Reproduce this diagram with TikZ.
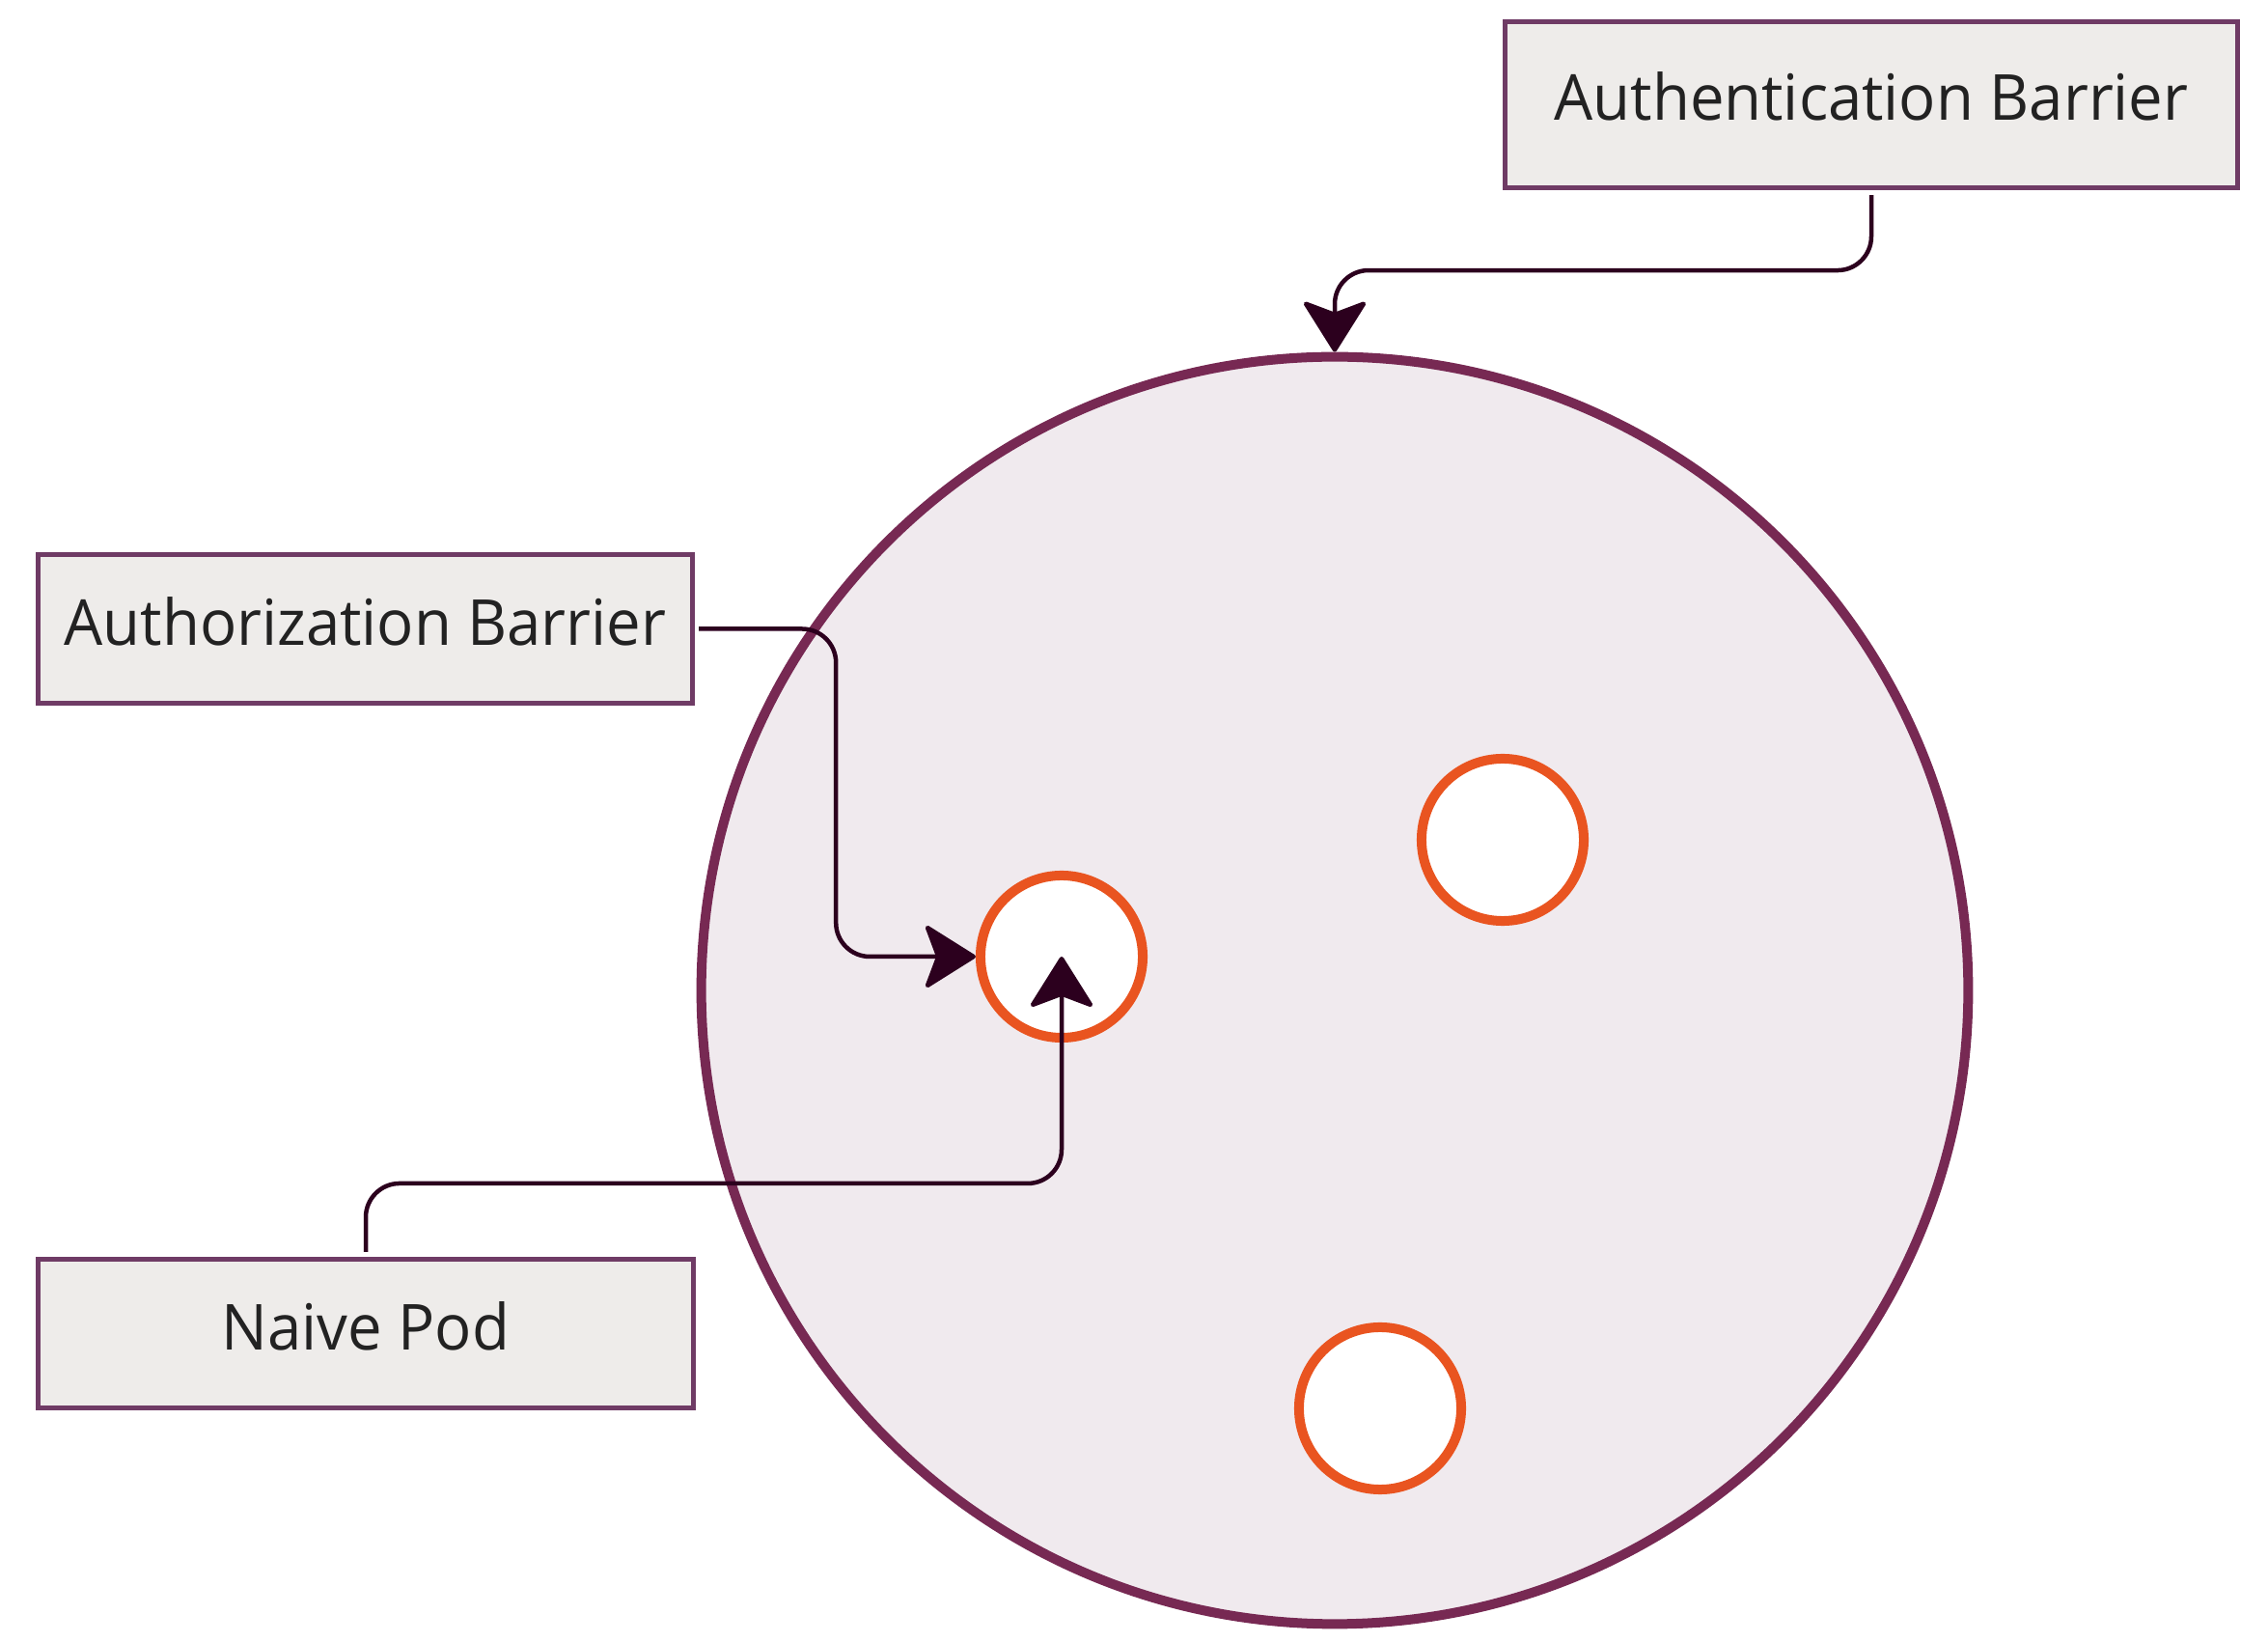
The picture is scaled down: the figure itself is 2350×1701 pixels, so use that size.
\documentclass[tikz,border=0pt]{standalone}
\usepackage{fontspec}
\setmainfont{Open Sans}[FakeStretch=0.965]
\usetikzlibrary{arrows.meta}

\definecolor{aubergine}{HTML}{772953}
\definecolor{clusterfill}{HTML}{F0EAEE}
\definecolor{boxline}{HTML}{6F3B65}
\definecolor{boxfill}{HTML}{EEECEA}
\definecolor{podline}{HTML}{E95420}
\definecolor{linkcol}{HTML}{2C001E}
\definecolor{txt}{HTML}{222222}

\begin{document}
\begin{tikzpicture}[x=0.01cm, y=-0.01cm, >={Stealth[length=5.6mm, width=7mm, inset=1.3mm, round]},
    barrier/.style={rectangle, draw=boxline, fill=boxfill, line width=0.05cm, minimum width=6.78cm, minimum height=1.54cm, inner sep=0pt, text=txt, font=\fontsize{18.7}{22}\selectfont, text height=0.5cm, text depth=0.17cm},
    pod/.style={circle, draw=podline, fill=white, line width=0.1cm, minimum size=1.68cm, inner sep=0pt},
    link/.style={->, draw=linkcol, line width=0.045cm, rounded corners=0.35cm}]
    \useasboundingbox (0,0) rectangle (2350,1701);
    % Klaster i pody
    \node (cluster) [circle, draw=aubergine, fill=clusterfill, line width=0.1cm, minimum size=13.12cm, inner sep=0pt] at (1383,1026) {};
    \node (pod1) [pod] at (1100,991) {};
    \node (pod2) [pod] at (1557,870) {};
    \node (pod3) [pod] at (1430,1459) {};

    % Bariery
    \node (authn) [barrier, minimum width=7.59cm, minimum height=1.72cm] at (1939,108.5) {Authentication Barrier};
    \node (authz) [barrier] at (378.5,651.5) {Authorization Barrier};
    \node (naive) [barrier] at (379,1381.5) {Naive Pod};

    % Strzalki
    \draw[link] ([yshift=-0.05cm]authn.south) -- ++(0,78) -| (cluster.north);
    \draw[link] ([xshift=0.04cm]authz.east) -- ++(142,0) |- (pod1.west);
    \draw[link] ([yshift=0.05cm]naive.north) -- ++(0,-71) -| (pod1.center);
\end{tikzpicture}
\end{document}
